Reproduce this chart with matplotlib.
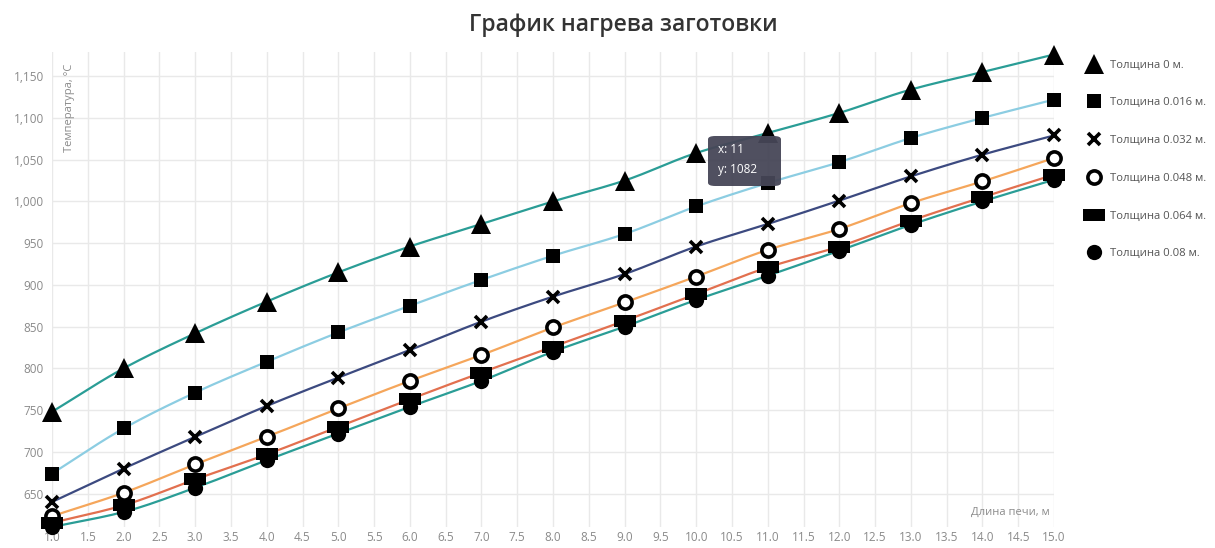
import numpy as np
import matplotlib
matplotlib.use("Agg")
import matplotlib.pyplot as plt
from matplotlib.lines import Line2D
from matplotlib.path import Path
from matplotlib.patches import FancyBboxPatch
from matplotlib.ticker import FuncFormatter, MultipleLocator

plt.rcParams['font.family'] = ['Open Sans', 'DejaVu Sans']

# Furnace length, m
length = [1, 2, 3, 4, 5, 6, 7, 8, 9, 10, 11, 12, 13, 14, 15]

# Billet temperature, °C, for each thickness
t_000 = [748, 800, 842, 880, 915, 946, 973, 1000, 1025, 1058, 1082, 1106, 1134, 1155, 1176]
t_016 = [674, 728, 771, 808, 843, 875, 906, 935, 961, 994, 1022, 1047, 1076, 1100, 1122]
t_032 = [640, 680, 718, 755, 789, 822, 856, 886, 913, 946, 973, 1001, 1030, 1056, 1079]
t_048 = [623, 651, 685, 718, 752, 785, 816, 849, 879, 910, 942, 967, 998, 1024, 1052]
t_064 = [615, 636, 667, 697, 730, 763, 795, 826, 857, 889, 921, 946, 977, 1005, 1032]
t_080 = [610, 628, 657, 690, 722, 754, 785, 820, 850, 882, 911, 941, 972, 1000, 1026]

labels = ["Толщина 0 м.", "Толщина 0.016 м.", "Толщина 0.032 м.",
          "Толщина 0.048 м.", "Толщина 0.064 м.", "Толщина 0.08 м."]

# wide flat rectangle marker
wide_rect = Path([(-1, -0.5), (1, -0.5), (1, 0.5), (-1, 0.5), (-1, -0.5)],
                 [Path.MOVETO, Path.LINETO, Path.LINETO, Path.LINETO, Path.CLOSEPOLY])

styles = [
    dict(color="#2a9d96", marker="^", ms=15, mfc="black", mec="black", mew=0),
    dict(color="#8ccde2", marker="s", ms=9.5, mfc="black", mec="black", mew=0),
    dict(color="#3c4a80", marker="x", ms=9, mfc="black", mec="black", mew=2.6),
    dict(color="#f5a65b", marker="o", ms=9.5, mfc="white", mec="black", mew=2.6),
    dict(color="#e2704f", marker=wide_rect, ms=16, mfc="black", mec="black", mew=0),
    dict(color="#2a9d96", marker="o", ms=11, mfc="black", mec="black", mew=0),
]


def pchip(x, y, n=300):
    """Monotone cubic curve through the points (Fritsch-Carlson)."""
    x = np.asarray(x, float)
    y = np.asarray(y, float)
    h = np.diff(x)
    d = np.diff(y) / h
    m = np.zeros_like(y)
    m[0], m[-1] = d[0], d[-1]
    for k in range(1, len(x) - 1):
        if d[k - 1] * d[k] <= 0:
            m[k] = 0
        else:
            w1 = 2 * h[k] + h[k - 1]
            w2 = h[k] + 2 * h[k - 1]
            m[k] = (w1 + w2) / (w1 / d[k - 1] + w2 / d[k])
    xs = np.linspace(x[0], x[-1], n)
    idx = np.clip(np.searchsorted(x, xs) - 1, 0, len(x) - 2)
    t = (xs - x[idx]) / h[idx]
    h00 = 2 * t**3 - 3 * t**2 + 1
    h10 = t**3 - 2 * t**2 + t
    h01 = -2 * t**3 + 3 * t**2
    h11 = t**3 - t**2
    ys = h00 * y[idx] + h10 * h[idx] * m[idx] + h01 * y[idx + 1] + h11 * h[idx] * m[idx + 1]
    return xs, ys


fig = plt.figure(figsize=(12.15, 5.48), dpi=100)
ax = fig.add_axes([52 / 1215, 1 - 527 / 548, (1054 - 52) / 1215, (527 - 52) / 548])

series = [t_000, t_016, t_032, t_048, t_064, t_080]
handles = []
for vals, st, lab in zip(series, styles, labels):
    xs, ys = pchip(length, vals)
    ax.plot(xs, ys, color=st["color"], lw=1.6, zorder=2, solid_capstyle="round")
    ax.plot(length, vals, ls="none", marker=st["marker"], ms=st["ms"],
            mfc=st["mfc"], mec=st["mec"], mew=st["mew"], zorder=3, clip_on=False)
    handles.append(Line2D([], [], ls="none", marker=st["marker"], ms=st["ms"],
                          mfc=st["mfc"], mec=st["mec"], mew=st["mew"], label=lab))

ax.set_xlim(1, 15)
ax.set_ylim(610, 1179)
ax.xaxis.set_major_locator(MultipleLocator(0.5))
ax.yaxis.set_major_locator(MultipleLocator(50))
ax.xaxis.set_major_formatter(FuncFormatter(lambda v, p: f"{v:.1f}"))
ax.yaxis.set_major_formatter(FuncFormatter(lambda v, p: f"{int(v):,}"))
ax.grid(True, color="#e9e9e9", lw=1)
ax.set_axisbelow(True)
for s in ax.spines.values():
    s.set_visible(False)
ax.tick_params(length=0, labelsize=8.5, colors="#8a8a8a")
ax.tick_params(axis="x", pad=3)
ax.tick_params(axis="y", pad=6)

ax.text(0.012, 0.975, "Температура, °C", transform=ax.transAxes, rotation=90,
        ha="left", va="top", fontsize=8, color="#8a8a8a")
ax.text(0.996, 0.02, "Длина печи, м", transform=ax.transAxes,
        ha="right", va="bottom", fontsize=8, color="#8a8a8a")

fig.text(0.513, 0.955, "График нагрева заготовки", ha="center", va="center",
         fontsize=16.5, fontweight="semibold", color="#333333")

# hover tooltip
tip = FancyBboxPatch((708 / 1215, 1 - 186 / 548), 73 / 1215, 50 / 548,
                     boxstyle="round,pad=0,rounding_size=0.006",
                     transform=fig.transFigure, fc="#464657", ec="none",
                     alpha=0.95, zorder=10)
fig.patches.append(tip)
fig.text(718 / 1215, 1 - 150 / 548, "x: 11", color="white", fontsize=8.5,
         va="center", ha="left", zorder=11)
fig.text(718 / 1215, 1 - 170 / 548, "y: 1082", color="white", fontsize=8.5,
         va="center", ha="left", zorder=11)

fig.legend(handles=handles, loc="upper left", bbox_to_anchor=(1080 / 1215, 1 - 55 / 548),
           frameon=False, fontsize=8.1, labelcolor="#555555", labelspacing=2.38,
           handletextpad=0.7, handlelength=1.6, borderaxespad=0)

fig.savefig("out.png", dpi=100)
